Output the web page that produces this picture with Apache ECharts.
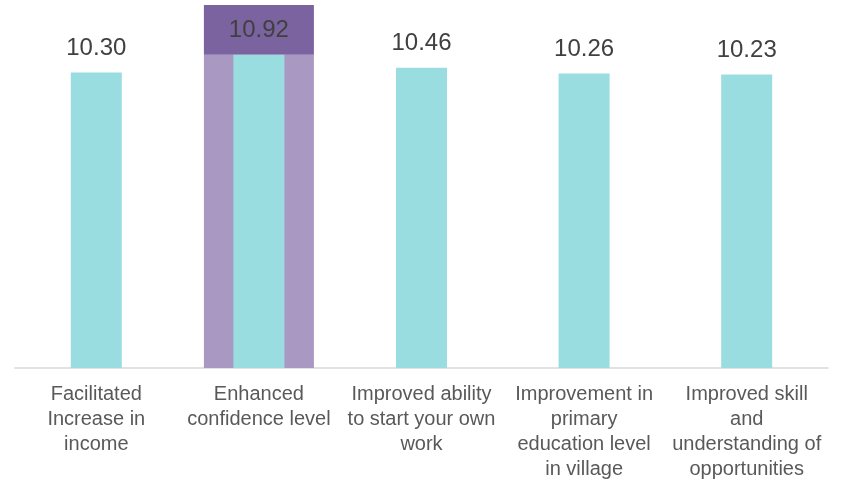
<!DOCTYPE html>
<html>
<head>
<meta charset="utf-8">
<script src="https://cdn.jsdelivr.net/npm/echarts@6/dist/echarts.min.js"></script>
<style>
  html, body { margin: 0; padding: 0; background: #fff; }
  #chart { width: 842px; height: 482px; }
</style>
</head>
<body>
<div id="chart"></div>
<script>
const categories = [
  'Facilitated\nIncrease in\nincome',
  'Enhanced\nconfidence level',
  'Improved ability\nto start your own\nwork',
  'Improvement in\nprimary\neducation level\nin village',
  'Improved skill\nand\nunderstanding of\nopportunities'
]
const scores = [10.30, 10.92, 10.46, 10.26, 10.23]
// highlighted category: light band up to the bar top, dark box above it
const AXIS_MAX = 12.65
const highlightLow = [null, 10.92, null, null, null]
const highlightTop = [null, AXIS_MAX - 10.92, null, null, null]

const chart = echarts.init(document.getElementById('chart'))
chart.setOption({
  animation: false,
  textStyle: { fontFamily: 'Liberation Sans, Arial, sans-serif' },
  grid: { left: 15, right: 14, top: 5, bottom: 112 },
  xAxis: [{
    type: 'category',
    data: categories,
    axisLine: { lineStyle: { color: '#d9d9d9', width: 1.5 } },
    axisTick: { show: false },
    axisLabel: { color: '#595959', fontSize: 20, lineHeight: 25, margin: 14, interval: 0 }
  }, {
    type: 'category',
    data: categories,
    show: false
  }],
  yAxis: {
    type: 'value',
    min: 0,
    max: AXIS_MAX,
    show: false,
    splitLine: { show: false }
  },
  series: [{
    type: 'bar',
    xAxisIndex: 1,
    stack: 'hl',
    barWidth: 110,
    data: highlightLow,
    itemStyle: { color: '#a898c2' },
    silent: true
  }, {
    type: 'bar',
    xAxisIndex: 1,
    stack: 'hl',
    barWidth: 110,
    data: highlightTop,
    itemStyle: { color: '#7b63a0' },
    silent: true
  }, {
    type: 'bar',
    xAxisIndex: 0,
    barWidth: 51,
    data: scores,
    itemStyle: { color: '#99dde0' },
    label: {
      show: true,
      position: 'top',
      distance: 12,
      color: '#404040',
      fontSize: 24,
      formatter: p => p.value.toFixed(2)
    }
  }]
})
</script>
</body>
</html>
